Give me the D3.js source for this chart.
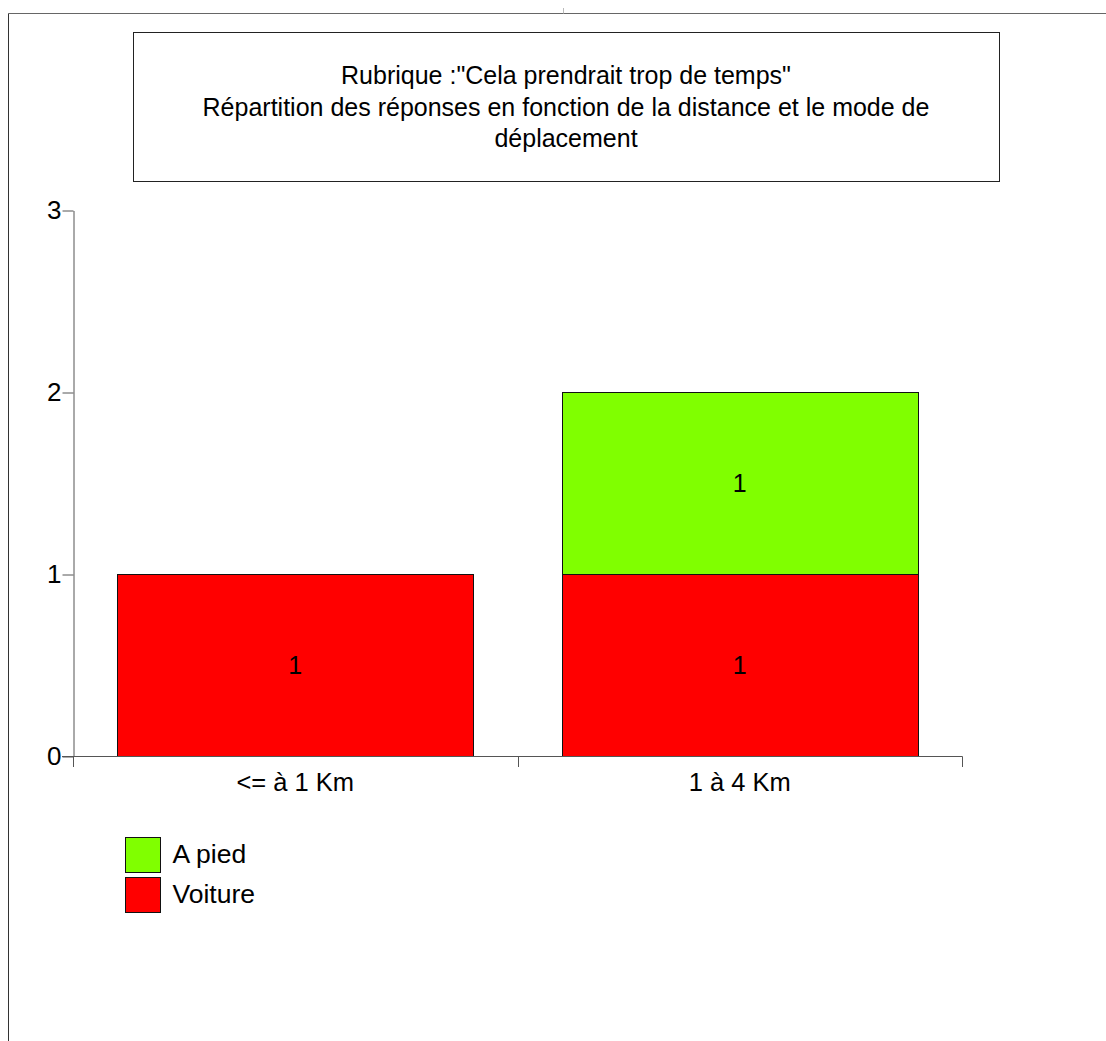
<!DOCTYPE html>
<html><head><meta charset="utf-8">
<script src="https://cdn.jsdelivr.net/npm/d3@7"></script>
<style>
body{margin:0;background:#fff;}
svg{display:block;font-family:"Liberation Sans",Arial,sans-serif;}
</style></head>
<body><svg id="c" width="1106" height="1041"></svg>
<script>
const titleLines = ['Rubrique :"Cela prendrait trop de temps"', 'Répartition des réponses en fonction de la distance et le mode de', 'déplacement'];
const categories = ["<= à 1 Km", "1 à 4 Km"];
const seriesNames = ["Voiture", "A pied"];
const voiture = [1, 1];
const aPied = [0, 1];
const yTicks = [0, 1, 2, 3];
const colors = {"Voiture": "#ff0000", "A pied": "#80ff00"};

const svg = d3.select("#c");
const axisColor = "#555";

// outer frame lines
svg.append("line").attr("x1", 8.5).attr("x2", 1106).attr("y1", 13.5).attr("y2", 13.5).attr("stroke", "#666");
svg.append("line").attr("x1", 8.5).attr("x2", 8.5).attr("y1", 13.5).attr("y2", 1041).attr("stroke", "#333");
svg.append("line").attr("x1", 563.5).attr("x2", 563.5).attr("y1", 8).attr("y2", 13.5).attr("stroke", "#bbb");

// title box
svg.append("rect").attr("x", 133.5).attr("y", 32.5).attr("width", 866).attr("height", 149)
  .attr("fill", "#fff").attr("stroke", "#222");
svg.append("g").selectAll("text").data(titleLines).join("text")
  .attr("x", 566).attr("y", (d, i) => 84 + i * 31.5)
  .attr("text-anchor", "middle").attr("font-size", 25).attr("fill", "#000").text(d => d);

const x = d3.scaleBand().domain(categories).range([73, 962]).paddingInner(0.2).paddingOuter(0.1);
const y = d3.scaleLinear().domain([0, 3]).range([756, 210]);

const data = categories.map((c, i) => ({cat: c, "Voiture": voiture[i], "A pied": aPied[i]}));
const stacked = d3.stack().keys(seriesNames)(data);

// bars
const g = svg.append("g");
stacked.forEach(s => {
  s.forEach((d, i) => {
    const v = d[1] - d[0];
    if (v <= 0) return;
    const x0 = Math.round(x(d.data.cat)) + 0.5;
    const w = Math.round(x.bandwidth());
    const yt = Math.round(y(d[1])) + 0.5, yb = Math.round(y(d[0])) + 0.5;
    g.append("rect").attr("x", x0).attr("y", yt).attr("width", w).attr("height", yb - yt)
      .attr("fill", colors[s.key]).attr("stroke", "#111").attr("stroke-width", 1);
    g.append("text").attr("x", x(d.data.cat) + x.bandwidth() / 2).attr("y", (y(d[0]) + y(d[1])) / 2 + 9)
      .attr("text-anchor", "middle").attr("font-size", 25).attr("fill", "#000").text(v);
  });
});

// y axis
const yAxis = d3.axisLeft(y).tickValues(yTicks).tickSize(11).tickSizeOuter(0).tickPadding(1).tickFormat(d3.format("d"));
const ya = svg.append("g").attr("transform", "translate(73.5,0.5)").call(yAxis);
ya.select(".domain").attr("stroke", axisColor);
ya.selectAll(".tick line").attr("stroke", axisColor);
ya.selectAll(".tick text").attr("font-size", 26).attr("fill", "#000").attr("font-family", "Liberation Sans, Arial, sans-serif");

// x axis baseline
svg.append("line").attr("x1", 62).attr("x2", 962.5).attr("y1", 756.5).attr("y2", 756.5).attr("stroke", axisColor);
// x boundary ticks
const bounds = [x.range()[0], ...categories.slice(1).map(c => x(c) - x.step() * x.paddingInner() / 2), x.range()[1]];
svg.append("g").selectAll("line").data(bounds).join("line")
  .attr("x1", d => Math.round(d) + 0.5).attr("x2", d => Math.round(d) + 0.5)
  .attr("y1", 756.5).attr("y2", 767).attr("stroke", axisColor);
svg.append("g").selectAll("text").data(categories).join("text")
  .attr("x", d => x(d) + x.bandwidth() / 2).attr("y", 791)
  .attr("text-anchor", "middle").attr("font-size", 25.5).attr("fill", "#000").text(d => d);

// legend
const legendItems = ["A pied", "Voiture"];
const lg = svg.append("g").selectAll("g").data(legendItems).join("g")
  .attr("transform", (d, i) => `translate(125.5,${837.5 + i * 40})`);
lg.append("rect").attr("width", 35).attr("height", 35).attr("fill", d => colors[d]).attr("stroke", "#111");
lg.append("text").attr("x", 47).attr("y", 25).attr("font-size", 26.5).attr("fill", "#000").text(d => d);
</script></body></html>
